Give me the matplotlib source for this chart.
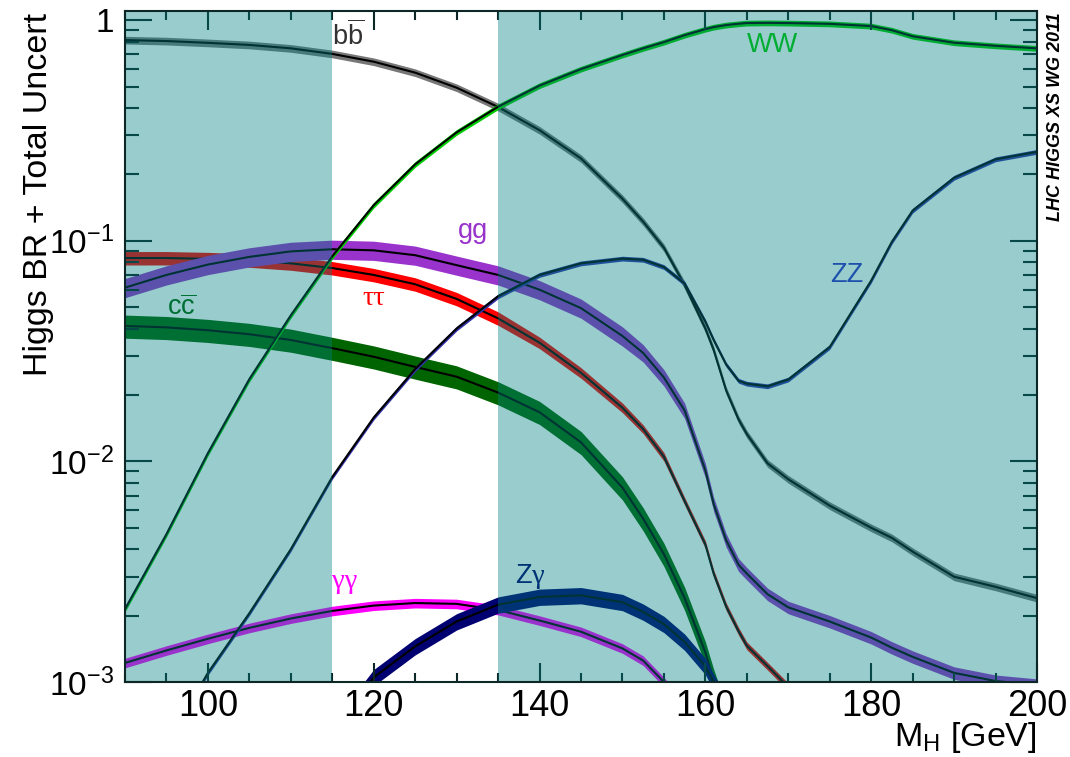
import numpy as np
import matplotlib
matplotlib.use("Agg")
import matplotlib.pyplot as plt
from matplotlib.ticker import LogLocator, NullFormatter, MultipleLocator

plt.rcParams['font.family'] = ['Liberation Sans', 'DejaVu Sans']
plt.rcParams['mathtext.fontset'] = 'custom'
plt.rcParams['mathtext.rm'] = 'Liberation Sans'
plt.rcParams['mathtext.it'] = 'Liberation Sans:italic'
plt.rcParams['mathtext.bf'] = 'Liberation Sans:bold'

nan = np.nan

# Higgs mass points [GeV]
mass = [90, 95, 100, 105, 110, 115, 120, 125, 130, 135, 140, 145, 150, 152.5,
        155, 157.5, 160, 161, 162.5, 164, 165, 167.5, 170, 175, 180, 182.5, 185, 190, 195, 200]

# branching ratios
br_bb = [0.812, 0.804, 0.789, 0.772, 0.745, 0.703, 0.648, 0.578, 0.494, 0.404, 0.317, 0.236, 0.155, 0.122,
         0.093, 0.063, 0.040, 0.032, 0.021, 0.0155, 0.0133, 0.0098, 0.0083, 0.0063, 0.0050, 0.0045, 0.0039, 0.0030, 0.0027, 0.0024]
br_ww = [0.00214, 0.00468, 0.0109, 0.0236, 0.0459, 0.085, 0.145, 0.222, 0.310, 0.405, 0.505, 0.600, 0.695, 0.745,
         0.795, 0.855, 0.910, 0.930, 0.950, 0.963, 0.970, 0.972, 0.970, 0.962, 0.940, 0.900, 0.845, 0.790, 0.765, 0.745]
br_zz = [0.00025, 0.00052, 0.00110, 0.00205, 0.0040, 0.0085, 0.0158, 0.0262, 0.0400, 0.0560, 0.0700, 0.0790, 0.0830, 0.0820,
         0.0760, 0.0640, 0.0430, 0.0355, 0.0275, 0.0232, 0.0225, 0.0219, 0.0235, 0.0330, 0.0660, 0.0990, 0.137, 0.193, 0.234, 0.253]
br_gg = [0.0613, 0.0700, 0.0780, 0.0845, 0.0895, 0.0915, 0.0905, 0.0860, 0.0775, 0.0700, 0.0600, 0.0495, 0.0370, 0.0310,
         0.0240, 0.0170, 0.0091, 0.0064, 0.0044, 0.0034, 0.0031, 0.0025, 0.00218, 0.00188, 0.00159, 0.00143, 0.0013, 0.0011, 0.00101, 0.00097]
br_tt = [0.0835, 0.0835, 0.0828, 0.0815, 0.0790, 0.0752, 0.0700, 0.0635, 0.0545, 0.0445, 0.0345, 0.0252, 0.0175, 0.0140,
         0.0105, 0.0066, 0.0042, 0.0031, 0.0022, 0.0017, 0.00146, 0.00118, 0.00095, nan, nan, nan, nan, nan, nan, nan]
br_cc = [0.0411, 0.0405, 0.0393, 0.0377, 0.0355, 0.0326, 0.0298, 0.0268, 0.0242, 0.0205, 0.0167, 0.0122, 0.0076, 0.0055,
         0.0038, 0.0024, 0.00136, 0.00102, 0.00070, nan, nan, nan, nan, nan, nan, nan, nan, nan, nan, nan]
br_aa = [0.00122, 0.00139, 0.00157, 0.00176, 0.00194, 0.00210, 0.00222, 0.00228, 0.00226, 0.00212, 0.00190, 0.00169, 0.00142, 0.00125,
         0.00100, 0.00078, nan, nan, nan, nan, nan, nan, nan, nan, nan, nan, nan, nan, nan, nan]
br_za = [nan, nan, nan, nan, nan, 0.00060, 0.00105, 0.00145, 0.00188, 0.00224, 0.00243, 0.00247, 0.00230, 0.00208,
         0.00183, 0.00152, 0.00118, 0.00100, 0.00080, nan, nan, nan, nan, nan, nan, nan, nan, nan, nan, nan]

# relative total uncertainty
unc_bb = 0.04
unc_ww = 0.03
unc_zz = 0.025
unc_gg = [0.10, 0.10, 0.10, 0.10, 0.10, 0.10, 0.10, 0.10, 0.10, 0.10, 0.10, 0.10, 0.10, 0.09,
          0.085, 0.08, 0.075, 0.073, 0.07, 0.067, 0.065, 0.065, 0.065, 0.065, 0.065, 0.065, 0.065, 0.065, 0.065, 0.065]
unc_tt = [0.07, 0.07, 0.07, 0.07, 0.07, 0.07, 0.07, 0.07, 0.07, 0.07, 0.06, 0.055, 0.05, 0.045,
          0.045, 0.04, 0.04, 0.04, 0.04, 0.04, 0.04, 0.04, 0.04, 0.04, 0.04, 0.04, 0.04, 0.04, 0.04, 0.04]
unc_cc = 0.12
unc_aa = 0.05
unc_za = 0.085

# drawing order matters (later bands cover earlier ones)
channels = [
    (br_bb, unc_bb, '#777777'),
    (br_tt, unc_tt, '#ff0000'),
    (br_cc, unc_cc, '#006400'),
    (br_gg, unc_gg, '#9933cc'),
    (br_aa, unc_aa, '#ff00ff'),
    (br_za, unc_za, '#000070'),
    (br_zz, unc_zz, '#3333aa'),
    (br_ww, unc_ww, '#00cc00'),
]

fig = plt.figure(figsize=(10.7, 7.57), dpi=100)
ax = fig.add_axes([125/1070, 1 - 682/757, (1037-125)/1070, (682-11)/757])

m = np.array(mass)
for br, unc, col in channels:
    br = np.array(br)
    unc = np.array(unc)
    ax.fill_between(m, br * (1 - unc), br * (1 + unc), color=col, lw=0, zorder=1)
    ax.plot(m, br, color='black', lw=1.5, zorder=1)

# channel labels
lab = dict(fontsize=19.5, ha='left', va='baseline', zorder=2)
greek = dict(family='Liberation Serif', fontsize=20.5, ha='left', va='baseline', zorder=2)
ax.text(115.0, 0.769, r'b$\overline{\mathrm{b}}$', color='#333333', **lab)
ax.text(165.0, 0.716, 'WW', color='#00cc00', **lab)
ax.text(175.0, 0.0651, 'ZZ', color='#3333cc', **lab)
ax.text(130.1, 0.103, 'gg', color='#9933cc', **lab)
ax.text(118.6, 0.0512, 'ττ', color='#ff0000', **greek)
ax.text(95.1, 0.0461, r'c$\overline{\mathrm{c}}$', color='#006400', **lab)
ax.text(115.0, 0.00267, 'γγ', color='#ff00ff', **greek)
ax.text(137.0, 0.00282, 'Z', color='#000070', **lab)
ax.text(139.1, 0.00282, 'γ', color='#000070', **greek)

# excluded mass regions
ax.axvspan(90, 115, color='#008080', alpha=0.4, lw=0, zorder=4)
ax.axvspan(135, 200, color='#008080', alpha=0.4, lw=0, zorder=4)

ax.set_xlim(90, 200)
ax.set_yscale('log')
ax.set_ylim(1e-3, 1.1)

ax.set_xticks([100, 120, 140, 160, 180, 200])
ax.xaxis.set_minor_locator(MultipleLocator(5))
ax.set_yticks([1e-3, 1e-2, 1e-1, 1], labels=[r'$10^{-3}$', r'$10^{-2}$', r'$10^{-1}$', '1'])
ax.yaxis.set_minor_locator(LogLocator(subs=np.arange(2, 10)))
ax.yaxis.set_minor_formatter(NullFormatter())

tick_col = '#0d2626'
ax.tick_params(axis='both', which='both', direction='in', top=True, right=True, width=1.5, color=tick_col)
ax.tick_params(axis='x', which='major', length=13.5, labelsize=26, pad=5)
ax.tick_params(axis='x', which='minor', length=6.5)
ax.tick_params(axis='y', which='major', length=19.5, labelsize=24, pad=8)
ax.tick_params(axis='y', which='minor', length=10)
for s in ax.spines.values():
    s.set_linewidth(1.5)
    s.set_color(tick_col)
    s.set_zorder(5)

fig.text(0.036, 0.983, 'Higgs BR + Total Uncert', rotation=90, ha='center', va='top', fontsize=24.5)
fig.text(1037/1070, 1 - 746/757, r'M$_{\mathrm{H}}$ [GeV]', ha='right', va='baseline', fontsize=24.5)
fig.text(1056/1070, 1 - 12/757, 'LHC HIGGS XS WG 2011', rotation=90, ha='center', va='top',
         fontsize=13, fontweight='bold', fontstyle='italic')

fig.savefig('out.png', dpi=100)
